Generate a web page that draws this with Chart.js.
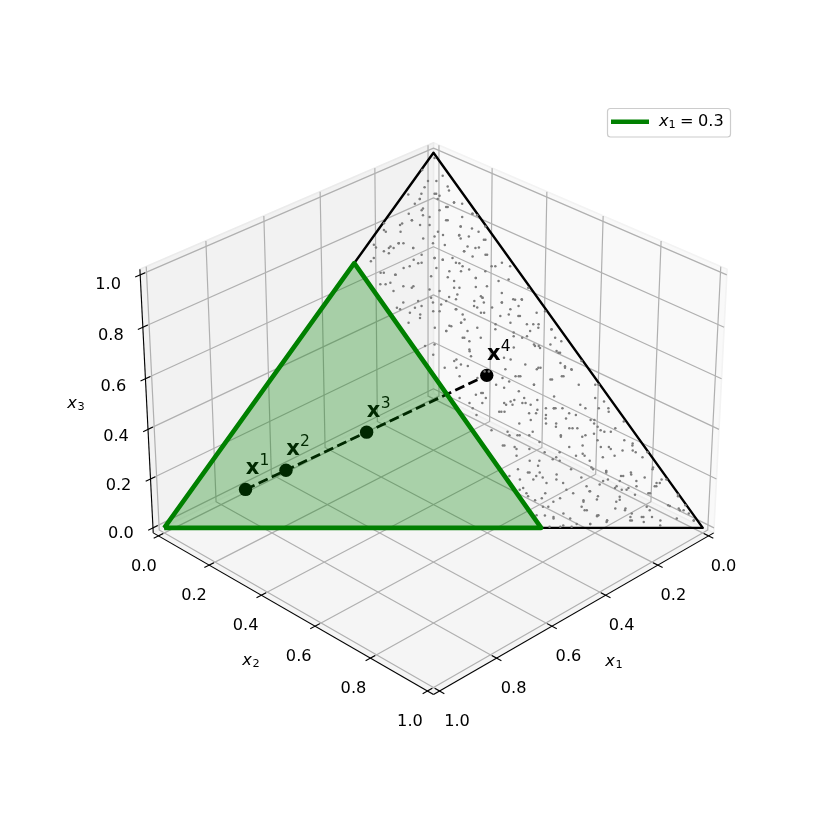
<!DOCTYPE html>
<html><head><meta charset="utf-8">
<style>html,body{margin:0;padding:0;background:#fff}canvas{display:block}</style>
<script src="https://cdn.jsdelivr.net/npm/chart.js@4"></script>
</head><body><canvas id="c" width="830" height="830"></canvas>
<script>
// ---- values ----
const tickValues = [0, 0.2, 0.4, 0.6, 0.8, 1];
const tickLabels = ['0.0', '0.2', '0.4', '0.6', '0.8', '1.0'];
const simplexCorners = [[1,0,0],[0,1,0],[0,0,1]];
const sliceCorners = [[1,0,0],[0.3,0.7,0],[0.3,0,0.7]];
const iterateNames = ['1','2','3','4'];
const iterateX1 = [0.8, 0.7, 0.5, 0.2];
const iterateX2 = [0.1, 0.15, 0.25, 0.4];
const iterateX3 = [0.1, 0.15, 0.25, 0.4];
const legendLabel = 'x1 = 0.3';
// sample points on the simplex: [x1, x3], x2 = 1 - x1 - x3
const samples = [
[.005,.986],[.045,.953],[.049,.923],[.033,.923],[.019,.908],[.014,.937],[.022,.897],[.064,.906],[.089,.874],[.105,.886],
[.051,.888],[.055,.874],[.050,.852],[.029,.864],[.009,.834],[.002,.830],[.096,.848],[.095,.825],[.133,.816],[.162,.803],
[.198,.785],[.190,.808],[.238,.750],[.209,.745],[.189,.754],[.124,.803],[.049,.799],[.030,.794],[.022,.785],[.064,.775],
[.063,.745],[.050,.741],[.020,.763],[.040,.723],[.076,.732],[.068,.816],[.094,.776],[.112,.772],[.256,.714],[.266,.705],
[.221,.727],[.168,.741],[.172,.701],[.141,.714],[.128,.709],[.107,.701],[.099,.692],[.044,.692],[.020,.701],[.009,.692],
[.051,.652],[.030,.656],[.004,.634],[.090,.660],[.131,.678],[.263,.674],[.238,.669],[.224,.634],[.263,.625],[.279,.643],
[.135,.652],[.134,.634],[.176,.625],[.063,.678],[.061,.620],[.045,.602],[.032,.602],[.074,.594],[.058,.558],[.004,.571],
[.017,.522],[.014,.491],[.039,.527],[.044,.536],[.077,.562],[.104,.607],[.121,.567],[.170,.576],[.177,.598],[.201,.607],
[.230,.598],[.275,.576],[.249,.553],[.277,.540],[.215,.571],[.234,.527],[.201,.531],[.178,.540],[.217,.518],[.192,.500],
[.187,.491],[.154,.527],[.115,.536],[.097,.504],[.072,.504],[.070,.478],[.063,.473],[.035,.460],[.041,.424],[.033,.415],
[.003,.438],[.093,.420],[.138,.398],[.166,.384],[.242,.438],[.247,.420],[.221,.393],[.257,.482],[.277,.478],[.273,.455],
[.200,.464],[.144,.447],[.009,.375],[.083,.389],[.060,.398],
[.234,.429],[.195,.375],[.157,.416],[.141,.398],[.124,.375],[.098,.416],[.032,.460],[.043,.420],[.033,.416],
[.057,.398],[.040,.375],[.003,.375],[.027,.340],[.016,.313],[.030,.260],[.021,.215],[.024,.197],
[.002,.197],[.015,.153],[.020,.117],[.002,.086],[.007,.019],[.034,.059],[.052,.090],[.091,.099],[.105,.108],[.134,.113],
[.161,.108],[.203,.099],[.231,.117],[.241,.135],[.249,.144],[.290,.099],[.291,.135],[.263,.215],[.242,.206],[.237,.242],
[.225,.304],[.203,.322],[.181,.335],[.160,.340],[.151,.309],[.147,.286],[.139,.264],[.141,.242],[.114,.215],[.124,.188],
[.077,.246],[.095,.242],[.110,.260],[.102,.313],[.118,.313],[.059,.313],[.065,.282],[.060,.255],[.067,.211],[.083,.135],
[.060,.144],[.068,.108],[.121,.046],[.125,.019],[.113,.081],[.112,.126],[.162,.095],[.185,.072],[.196,.046],[.180,.032],
[.204,.010],[.256,.006],[.263,.028],[.269,.055],[.275,.072],[.243,.068],[.282,.090],[.215,.175],[.188,.179],[.177,.175],
[.140,.188],[.104,.148],[.034,.108],[.096,.028],[.075,.046],[.069,.019],[.019,.046],[.171,.015],[.229,.010],[.277,.032],
[.126,.068],[.251,.188],[.222,.242],[.200,.242],[.190,.224],[.166,.197],[.109,.286],[.086,.295],[.232,.340],[.234,.353],
[.272,.295],[.270,.313],
[.079,.888],[.054,.888],[.047,.883],[.105,.861],[.089,.874],[.130,.834],[.101,.843],[.105,.830],[.067,.843],[.047,.852],
[.029,.864],[.015,.861],[.009,.834],[.156,.807],[.133,.816],[.106,.803],[.065,.816],[.033,.825],[.049,.799],[.002,.799],
[.199,.790],[.170,.785],[.189,.754],[.180,.754],[.136,.767],[.099,.785],[.063,.776],[.065,.767],[.047,.772],[.023,.763],
[.214,.741],[.205,.741],[.228,.732],[.238,.742],[.168,.741],[.124,.754],[.104,.749],[.076,.732],[.043,.742],[.037,.723],
[.183,.709],[.161,.723],[.141,.714],[.128,.709],[.107,.714],[.101,.700],[.067,.718],[.257,.674],[.237,.669],[.213,.687],
[.199,.692],[.179,.700],[.151,.687],[.109,.678],[.091,.683],[.037,.692],[.258,.647],[.238,.638],[.219,.638],[.172,.665],
[.142,.662],[.090,.660],[.080,.638],[.269,.643],[.193,.629],[.144,.634],[.102,.636],[.105,.611],[.260,.594],[.245,.580],
[.230,.585],[.204,.594],[.191,.589],[.166,.609],[.147,.616],[.108,.594],[.169,.576],[.131,.585],[.279,.580],[.261,.567],
[.244,.562],[.203,.571],[.164,.562],
[.156,.603],[.104,.607],[.124,.598],[.074,.594],[.048,.603],[.032,.603],[.127,.581],[.099,.581],[.067,.576],[.047,.585],
[.022,.567],[.167,.549],[.127,.567],[.095,.558],[.061,.558],[.056,.536],[.085,.540],[.204,.532],[.178,.540],[.177,.518],
[.217,.518],[.122,.523],[.092,.514],[.059,.518],[.034,.536],[.016,.523],[.195,.500],[.161,.500],[.083,.500],[.070,.482],
[.021,.500],[.198,.469],[.112,.474],[.063,.478],[.039,.482],[.236,.442],[.269,.420],[.204,.451],[.134,.442],[.113,.429],
[.089,.420],[.036,.465],[.045,.433],[.223,.425],[.252,.398],[.174,.393],[.147,.398],[.124,.375],[.086,.389],[.231,.353],
[.246,.349],[.184,.367],[.161,.358],[.138,.335],[.102,.344],[.245,.327],[.190,.331],[.164,.327],[.133,.313],[.269,.327],
[.215,.304],[.158,.300],[.115,.313],[.281,.340],
[.204,.327],[.191,.322],[.170,.327],[.157,.322],[.221,.304],[.171,.300],[.142,.295],[.118,.313],[.096,.300],[.064,.322],
[.203,.273],[.177,.282],[.153,.273],[.134,.273],[.101,.260],[.063,.273],[.264,.255],[.236,.251],[.218,.242],[.189,.251],
[.143,.238],[.116,.260],[.103,.238],[.260,.215],[.243,.211],[.218,.206],[.194,.197],[.179,.184],[.141,.211],[.125,.193],
[.121,.175],[.079,.229],[.233,.175],[.224,.162],[.266,.153],[.252,.144],[.230,.144],[.201,.139],[.167,.153],[.126,.153],
[.106,.144],[.276,.126],[.251,.126],[.231,.131],[.208,.126],[.159,.131],[.281,.104],[.247,.090],[.200,.117],[.195,.090],
[.161,.095],[.283,.082],[.260,.077],[.226,.077],[.197,.055],[.153,.082],[.259,.055],[.240,.037],[.187,.068],[.192,.046],
[.292,.033],[.265,.024],[.234,.024],[.177,.033],[.204,.010],[.283,.003],[.263,.003],[.242,.003],[.168,.019],
[.034,.313],[.020,.304],[.015,.331],[.058,.282],[.005,.278],[.061,.264],[.055,.251],[.043,.251],[.029,.229],[.018,.220],
[.082,.211],[.066,.206],[.046,.202],[.027,.202],[.018,.184],[.068,.188],[.092,.184],[.127,.157],[.104,.148],[.062,.139],
[.079,.135],[.092,.122],[.012,.157],[.041,.131],[.026,.117],[.012,.126],[.003,.126],[.123,.122],[.110,.104],[.085,.104],
[.061,.122],[.031,.108],[.100,.099],[.082,.086],[.055,.090],[.004,.082],[.002,.059],[.159,.074],[.117,.073],[.076,.055],
[.032,.057],[.012,.046],[.137,.050],[.118,.050],[.113,.037],[.181,.030],[.168,.019],[.120,.028],[.099,.028],[.080,.028],
[.019,.050],[.007,.019],[.076,.006],[.102,.015],[.036,.024],[.122,.019],[.007,.037],
[.199,.410],[.191,.410]
];

// ---- 3D view (elevation 30, azimuth 45, box 4:4:3, camera distance 10) ----
const LO = -1/48, HI = 49/48;
const boxNorm = 1.8294640721620434*25/24/Math.hypot(4,4,3);
const BX = 4*boxNorm, BZ = 3*boxNorm;
const E = 30*Math.PI/180, A = 45*Math.PI/180;
const toward = [Math.cos(E)*Math.cos(A), Math.cos(E)*Math.sin(A), Math.sin(E)];
const right = [-Math.sin(A), Math.cos(A), 0];
const up = [-Math.sin(E)*Math.cos(A), -Math.sin(E)*Math.sin(A), Math.cos(E)];
const dot = (a,b)=>a[0]*b[0]+a[1]*b[1]+a[2]*b[2];
function project(p){
  const q=[(p[0]-.5)*BX,(p[1]-.5)*BX,(p[2]-.5)*BZ];
  const d=10-dot(q,toward);
  return {x:dot(q,right)/d, y:dot(q,up)/d};
}
const PX_PER_UNIT=3324, CX=433.8, CY=404, SIZE=830;

// ---- datasets ----
const datasets=[];
function add(points3d,opts){
  datasets.push(Object.assign({
    data:points3d.map(project), showLine:true, pointRadius:0, borderWidth:1.2,
    borderColor:'#b0b0b0', fill:false, tension:0, clip:false, order:-datasets.length,
    borderJoinStyle:'round', borderCapStyle:'butt'
  },opts));
  return datasets.length-1;
}
// panes
add([[LO,LO,LO],[LO,HI,LO],[LO,HI,HI],[LO,LO,HI],[LO,LO,LO]],{fill:'shape',backgroundColor:'#f9f9f9',borderColor:'#f3f3f3',borderWidth:1.6});
add([[LO,LO,LO],[HI,LO,LO],[HI,LO,HI],[LO,LO,HI],[LO,LO,LO]],{fill:'shape',backgroundColor:'#f2f2f2',borderColor:'#ebebeb',borderWidth:1.6});
add([[LO,LO,LO],[HI,LO,LO],[HI,HI,LO],[LO,HI,LO],[LO,LO,LO]],{fill:'shape',backgroundColor:'#f5f5f5',borderColor:'#eeeeee',borderWidth:1.6});
// grid
tickValues.forEach(t=>{
  add([[t,HI,LO],[t,LO,LO],[t,LO,HI]],{});
  add([[HI,t,LO],[LO,t,LO],[LO,t,HI]],{});
  add([[HI,LO,t],[LO,LO,t],[LO,HI,t]],{});
});
// axis lines and ticks
const TICK=.0165, axisStyle={borderColor:'#000',borderWidth:1.1};
add([[LO,HI,LO],[HI,HI,LO]],axisStyle);
add([[HI,LO,LO],[HI,HI,LO]],axisStyle);
add([[HI,LO,LO],[HI,LO,HI]],axisStyle);
tickValues.forEach(t=>{
  add([[t,HI-TICK,LO],[t,HI+TICK,LO]],axisStyle);
  add([[HI-TICK,t,LO],[HI+TICK,t,LO]],axisStyle);
  add([[HI-TICK,LO,t],[HI+TICK,LO,t]],axisStyle);
});
// iterates: dashed path and markers
const iterates=iterateX1.map((v,i)=>[v,iterateX2[i],iterateX3[i]]);
add(iterates,{borderColor:'#000',borderWidth:2.8,borderDash:[10,4.5]});
const markerIndex=add(iterates,{showLine:false,pointRadius:6.7,pointBackgroundColor:'#000',pointBorderColor:'#000',pointBorderWidth:0});
// simplex outline
add([...simplexCorners,simplexCorners[0]],{borderColor:'#000',borderWidth:2.4});
// sample points
add(samples.map(s=>[s[0],1-s[0]-s[1],s[1]]),{showLine:false,pointRadius:1.25,pointBackgroundColor:'#7c7c7c',pointBorderWidth:0});
// the slice x1 = 0.3 region
add([...sliceCorners,sliceCorners[0]],{label:legendLabel,fill:'shape',backgroundColor:'rgba(0,128,0,0.31)',borderColor:'#008000',borderWidth:4.6});

// ---- text and legend ----
const FONT='"DejaVu Sans"', FS=16.2;
function pix(chart,p){const q=project(p);return [chart.scales.x.getPixelForValue(q.x),chart.scales.y.getPixelForValue(q.y)];}
function txt(ctx,s,x,y,font,align,color){ctx.font=font;ctx.textAlign=align||'center';ctx.textBaseline='middle';ctx.fillStyle=color||'#000';ctx.fillText(s,x,y);}
const annotate={
  id:'annotate',
  afterDatasetDraw(chart,args){
    if(args.index!==markerIndex) return;
    const ctx=chart.ctx; ctx.save();
    iterates.forEach((p,i)=>{
      const [x,y]=pix(chart,p);
      txt(ctx,'x',x+7,y-21,'bold 21px '+FONT);
      txt(ctx,iterateNames[i],x+19,y-28,'15.5px '+FONT);
    });
    ctx.restore();
  },
  afterDraw(chart){
    const ctx=chart.ctx; ctx.save();
    tickValues.forEach((t,i)=>{
      let [x,y]=pix(chart,[t,HI,LO]);
      txt(ctx,tickLabels[i],x+15+2.5*t,y+30.5,FS+'px '+FONT);
      [x,y]=pix(chart,[HI,t,LO]);
      txt(ctx,tickLabels[i],x-14.5-3*t,y+30.5,FS+'px '+FONT);
      [x,y]=pix(chart,[HI,LO,t]);
      txt(ctx,tickLabels[i],x-32,y+6+3.5*t,FS+'px '+FONT);
    });
    // axis titles
    const title=(x,y,n)=>{txt(ctx,'x',x-4,y,'italic '+FS+'px '+FONT);txt(ctx,n,x+5,y+3,'11.3px '+FONT);};
    title(614,662,'1'); title(251,661,'2'); title(76,404,'3');
    // legend box
    ctx.beginPath();ctx.roundRect(607.5,108.5,123,28.5,3);
    ctx.fillStyle='rgba(255,255,255,.8)';ctx.fill();ctx.strokeStyle='#cccccc';ctx.lineWidth=1.2;ctx.stroke();
    ctx.beginPath();ctx.moveTo(611,121.7);ctx.lineTo(649,121.7);ctx.strokeStyle='#008000';ctx.lineWidth=4.6;ctx.stroke();
    txt(ctx,'x',659,121.5,'italic '+FS+'px '+FONT,'left');
    txt(ctx,'1',668.5,125,'11.3px '+FONT,'left');
    txt(ctx,'=',680,122,FS+'px '+FONT,'left');
    txt(ctx,'0.3',698,122,FS+'px '+FONT,'left');
    ctx.restore();
  }
};
new Chart(document.getElementById('c'),{
  type:'scatter',
  data:{datasets},
  options:{
    responsive:false, animation:false, events:[],
    layout:{padding:0},
    plugins:{legend:{display:false},tooltip:{enabled:false}},
    scales:{
      x:{type:'linear',display:false,min:-CX/PX_PER_UNIT,max:(SIZE-CX)/PX_PER_UNIT},
      y:{type:'linear',display:false,min:(CY-SIZE)/PX_PER_UNIT,max:CY/PX_PER_UNIT}
    }
  },
  plugins:[annotate]
});
</script></body></html>
